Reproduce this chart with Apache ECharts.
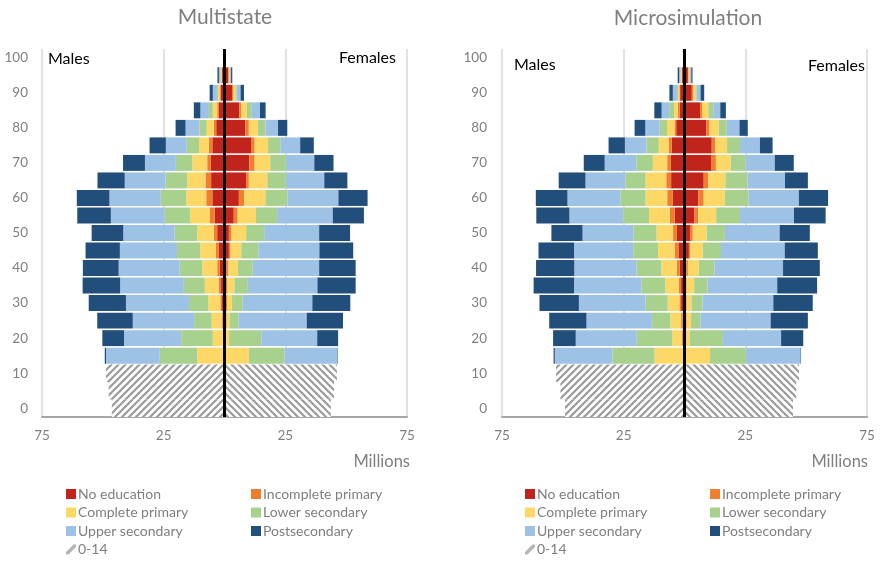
<!DOCTYPE html>
<html>
<head>
<meta charset="utf-8">
<script src="https://cdn.jsdelivr.net/npm/echarts@6/dist/echarts.min.js"></script>
<style>
  html, body { margin: 0; padding: 0; background: #fff; }
  #chart { width: 880px; height: 561px; }
</style>
</head>
<body>
<div id="chart"></div>
<script>
// Age groups (lower bound of each 5-year band), 0 to 100
const ages = ['0','5','10','15','20','25','30','35','40','45','50','55','60','65','70','75','80','85','90','95','100'];

// Education levels, innermost first
const levels = ['No education','Incomplete primary','Complete primary','Lower secondary','Upper secondary','Postsecondary'];
const levelColors = ['#c1241b','#ef7f2f','#fdd867','#a8d18d','#9ec2e5','#214e7b'];
const childLabel = '0-14';

// Population in millions, ages 15-19 ... 100+ (Multistate)
const msMaleNoEdu   = [0.1,0.4,0.7,1.0,1.4,1.9,2.3,3.0,4.0,5.0,5.5,5.6,5.0,3.4,2.3,1.6,1.0,0];
const msMaleIncPri  = [0.2,0.3,0.5,0.7,1.0,1.1,1.2,1.4,2.0,2.5,2.3,1.5,1.4,1.0,0.7,0.4,0.2,0];
const msMaleComPri  = [10.9,4.1,4.1,5.0,5.7,6.1,6.5,6.8,8.2,8.2,7.5,6.1,4.1,2.9,1.8,0.7,0.3,0];
const msMaleLowSec  = [15.4,13.0,7.2,7.9,8.6,9.3,9.5,9.3,10.4,10.5,8.9,6.8,5.0,3.0,1.6,0.4,0.2,0];
const msMaleUppSec  = [22.1,23.5,25.2,25.9,26.2,25.1,23.5,21.1,22.1,21.1,16.8,12.7,8.6,5.7,3.5,1.7,0.6,0];
const msMalePostSec = [0.5,8.9,14.6,15.3,15.4,14.7,14.1,13.0,13.8,13.4,11.2,9.0,6.7,4.1,2.7,1.3,0.6,0];

const msFemNoEdu    = [0.1,0.3,0.4,0.4,0.5,0.8,1.8,1.8,3.8,5.9,8.9,10.2,10.9,8.6,6.1,3.1,1.5,0];
const msFemIncPri   = [0.1,0.4,0.5,0.7,0.7,0.7,0.7,1.1,1.6,2.2,1.1,2.2,1.5,1.4,0.8,0.4,0.3,0];
const msFemComPri   = [9.8,1.2,1.2,2.0,2.9,4.0,4.4,6.0,7.5,8.7,7.6,6.4,5.5,3.7,2.3,1.0,0.4,0];
const msFemLowSec   = [14.6,13.2,3.7,4.4,5.5,6.1,7.0,7.4,8.7,9.1,7.6,6.4,5.0,3.1,2.0,0.5,0.1,0];
const msFemUppSec   = [21.7,23.0,28.0,28.6,28.6,27.3,25.1,22.6,22.9,20.9,15.8,11.7,8.2,5.2,3.4,1.6,0.4,0];
const msFemPostSec  = [0.2,8.6,14.9,15.6,15.7,15.0,13.9,12.7,12.8,12.0,9.5,7.9,5.6,3.8,2.3,1.4,0.5,0];

// Population in millions, ages 15-19 ... 100+ (Microsimulation)
const mcMaleNoEdu   = [0.1,0.5,0.7,1.4,1.4,2.0,2.5,3.1,4.1,4.8,5.5,5.6,5.2,3.4,2.0,1.8,1.0,0];
const mcMaleIncPri  = [0.2,0.5,0.7,0.7,0.9,1.1,1.6,1.6,2.0,2.3,2.0,1.5,1.2,0.7,0.7,0.3,0.2,0];
const mcMaleComPri  = [12.0,4.1,4.4,4.8,5.6,6.4,6.8,6.8,8.5,8.9,8.5,5.9,4.2,3.1,1.6,0.6,0.3,0];
const mcMaleLowSec  = [17.3,14.5,7.6,9.1,9.8,10.2,10.2,9.5,10.6,10.4,8.3,6.8,5.0,3.0,2.0,0.4,0.2,0];
const mcMaleUppSec  = [23.7,25.1,26.9,27.4,27.7,25.6,24.3,20.9,22.1,21.7,16.4,13.0,8.9,5.9,3.1,1.7,0.5,0];
const mcMalePostSec = [0.5,9.3,15.3,16.2,16.6,15.7,14.6,12.8,13.6,13.0,11.0,8.6,6.7,4.4,3.0,1.4,0.6,0];

const mcFemNoEdu    = [0.1,0.3,0.4,0.4,0.4,0.7,1.8,2.3,4.1,5.7,7.9,10.9,11.2,8.9,6.4,3.0,1.4,0];
const mcFemIncPri   = [0.1,0.5,0.5,0.5,0.5,0.7,0.5,1.1,1.5,2.2,1.8,2.0,1.5,1.4,0.8,0.5,0.3,0];
const mcFemComPri   = [10.3,1.4,1.8,2.0,3.1,4.5,5.2,5.7,7.4,8.7,7.1,6.1,4.8,3.8,2.6,1.0,0.4,0];
const mcFemLowSec   = [14.7,13.6,3.8,4.5,5.5,6.4,7.5,7.5,9.8,9.7,9.1,6.1,5.3,3.3,2.0,0.5,0.2,0];
const mcFemUppSec   = [22.5,23.9,28.9,29.1,28.6,28.2,26.2,22.5,22.2,20.7,15.4,12.0,8.2,5.2,2.9,1.6,0.5,0];
const mcFemPostSec  = [0.2,9.1,15.3,16.2,16.4,15.1,13.6,12.4,13.0,12.0,9.4,7.8,5.2,3.4,2.3,1.5,0.5,0];

// Children aged 0-14 (ages 0, 5, 10), millions
const msMaleChild = [46.3,47.6,48.7];
const msFemChild  = [43.7,45.0,46.2];
const mcMaleChild = [49.1,51.0,52.8];
const mcFemChild  = [44.6,45.9,47.1];

// Axis tick labels (absolute millions on each side)
const xTickLabels = ['75','25','25','75'];

const FONT = 'Lato, "Liberation Sans", sans-serif';
const GRAY = '#7f7f7f';

// Diagonal hatch tile; dir = 1 draws "/", dir = -1 draws "\"
function hatchPattern(dir) {
  const s = 7;
  const c = document.createElement('canvas');
  c.width = s; c.height = s;
  const g = c.getContext('2d');
  g.fillStyle = '#ffffff';
  g.fillRect(0, 0, s, s);
  g.strokeStyle = '#9b9b9b';
  g.lineWidth = 2.2;
  const segs = dir > 0
    ? [[-s, s, s, -s], [0, s, s, 0], [0, 2 * s, 2 * s, 0]]
    : [[0, 0, s, s], [-s, 0, s, 2 * s], [0, -s, 2 * s, s]];
  segs.forEach(([a, b, c2, d]) => { g.beginPath(); g.moveTo(a, b); g.lineTo(c2, d); g.stroke(); });
  return c;
}
const hatchMale = hatchPattern(1);
const hatchFem = hatchPattern(-1);

const adultPad = [null, null, null];
const childPad = new Array(18).fill(null);

function buildPanel(gi, maleSets, femSets, maleChild, femChild) {
  const xData = gi * 2, yBars = gi * 2, yChild = gi * 2 + 1;
  const series = [];
  series.push({
    type: 'bar', name: childLabel, xAxisIndex: xData, yAxisIndex: yChild, stack: 'child' + gi,
    data: maleChild.map(v => -v).concat(childPad), barCategoryGap: 0,
    itemStyle: { color: { image: hatchMale, repeat: 'repeat' } }, z: 1, silent: true
  });
  series.push({
    type: 'bar', name: childLabel, xAxisIndex: xData, yAxisIndex: yChild, stack: 'child' + gi,
    data: femChild.concat(childPad), barCategoryGap: 0,
    itemStyle: { color: { image: hatchFem, repeat: 'repeat' } }, z: 1, silent: true
  });
  levels.forEach((lv, i) => {
    series.push({
      type: 'bar', name: lv, xAxisIndex: xData, yAxisIndex: yBars, stack: 'pop' + gi,
      data: adultPad.concat(maleSets[i].map(v => -v)), barCategoryGap: '9%',
      itemStyle: { color: levelColors[i] }, z: 2, silent: true
    });
  });
  levels.forEach((lv, i) => {
    const s = {
      type: 'bar', name: lv, xAxisIndex: xData, yAxisIndex: yBars, stack: 'pop' + gi,
      data: adultPad.concat(femSets[i]), barCategoryGap: '9%',
      itemStyle: { color: levelColors[i] }, z: 2, silent: true
    };
    if (i === levels.length - 1) {
      s.markLine = {
        silent: true, symbol: 'none', label: { show: false }, animation: false,
        lineStyle: { color: '#000', width: 3, type: 'solid' },
        data: [{ xAxis: 0 }]
      };
    }
    series.push(s);
  });
  return series;
}

const grids = [
  { left: 42, top: 49, width: 365, height: 368 },
  { left: 502, top: 49, width: 365, height: 368 }
];

const xAxes = [], yAxes = [];
grids.forEach((g, gi) => {
  // value axis carrying the data (centred on zero)
  xAxes.push({ type: 'value', gridIndex: gi, min: -75, max: 75, show: false });
  // display axis: ticks every 50 starting at the left edge
  xAxes.push({
    type: 'value', gridIndex: gi, min: 0, max: 150, interval: 50, position: 'bottom',
    axisLine: { show: true, lineStyle: { color: '#a6a6a6', width: 2 } },
    axisTick: { show: false },
    axisLabel: {
      color: GRAY, fontSize: 13.5, fontFamily: FONT, margin: 12,
      formatter: v => xTickLabels[Math.round(v / 50)]
    },
    splitLine: { show: true, lineStyle: { color: '#d9d9d9', width: 1.5 } }
  });
  yAxes.push({
    type: 'category', gridIndex: gi, data: ages,
    axisLine: { show: false }, axisTick: { show: false },
    axisLabel: { interval: 1, color: GRAY, fontSize: 13.5, fontFamily: FONT, margin: gi === 0 ? 14 : 15 },
    splitLine: { show: false }
  });
  yAxes.push({ type: 'category', gridIndex: gi, data: ages, show: false });
});

const series = [].concat(
  buildPanel(0,
    [msMaleNoEdu, msMaleIncPri, msMaleComPri, msMaleLowSec, msMaleUppSec, msMalePostSec],
    [msFemNoEdu, msFemIncPri, msFemComPri, msFemLowSec, msFemUppSec, msFemPostSec],
    msMaleChild, msFemChild),
  buildPanel(1,
    [mcMaleNoEdu, mcMaleIncPri, mcMaleComPri, mcMaleLowSec, mcMaleUppSec, mcMalePostSec],
    [mcFemNoEdu, mcFemIncPri, mcFemComPri, mcFemLowSec, mcFemUppSec, mcFemPostSec],
    mcMaleChild, mcFemChild)
);

const childIcon = 'path://M0,7 L6,1 L8,1 L8,3 L2,9 L0,9 Z';
function legendCol(left, names) {
  return {
    orient: 'vertical', left: left, top: 487, height: 74, padding: 0,
    itemWidth: 10, itemHeight: 10, itemGap: 4.5,
    icon: 'rect', selectedMode: false,
    textStyle: { color: GRAY, fontSize: 14, fontFamily: FONT, lineHeight: 14, padding: [0, 0, 0, -3] },
    data: names
  };
}
const childLegendItem = { name: childLabel, icon: childIcon, itemStyle: { color: '#b5b5b5' } };
const legends = [
  legendCol(66, [levels[0], levels[2], levels[4], childLegendItem]),
  legendCol(251, [levels[1], levels[3], levels[5]]),
  legendCol(525, [levels[0], levels[2], levels[4], childLegendItem]),
  legendCol(710, [levels[1], levels[3], levels[5]])
];

function txt(x, y, text, opts) {
  return {
    type: 'text', x: x, y: y, silent: true,
    style: Object.assign({ text: text, fontFamily: FONT, fontSize: 16, fill: '#000', textVerticalAlign: 'middle' }, opts)
  };
}

const chart = echarts.init(document.getElementById('chart'), null, { renderer: 'canvas' });
chart.setOption({
  animation: false,
  backgroundColor: '#ffffff',
  grid: grids,
  xAxis: xAxes,
  yAxis: yAxes,
  legend: legends,
  series: series,
  graphic: [
    txt(225, 17, 'Multistate', { fontSize: 21, fill: GRAY, textAlign: 'center' }),
    txt(688, 18, 'Microsimulation', { fontSize: 21, fill: GRAY, textAlign: 'center' }),
    txt(48, 59, 'Males', { textAlign: 'left' }),
    txt(396, 58, 'Females', { textAlign: 'right' }),
    txt(514, 65, 'Males', { textAlign: 'left' }),
    txt(865, 66, 'Females', { textAlign: 'right' }),
    txt(410, 462, 'Millions', { fontSize: 16.5, fill: GRAY, textAlign: 'right' }),
    txt(868, 462, 'Millions', { fontSize: 16.5, fill: GRAY, textAlign: 'right' })
  ]
});
</script>
</body>
</html>
